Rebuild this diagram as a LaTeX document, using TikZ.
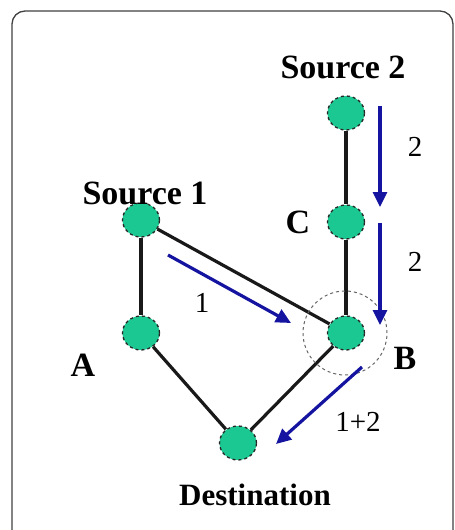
\documentclass[tikz,border=0pt]{standalone}
\usepackage{fontspec}
\setmainfont{Liberation Serif}
\usetikzlibrary{arrows.meta,shapes.geometric}
\definecolor{nodegreen}{RGB}{28,200,145}
\definecolor{flowblue}{RGB}{20,20,160}
\begin{document}
\begin{tikzpicture}[x=1pt,y=-1pt,
  netnode/.style={ellipse,draw=black!85,dashed,line width=1.3pt,fill=nodegreen,minimum width=37pt,minimum height=34pt,inner sep=0pt},
  link/.style={line width=3.2pt,black!90},
  flow/.style={line width=3.2pt,flowblue,-{Triangle[length=15pt,width=14pt]}},
  bigbold/.style={font=\bfseries\fontsize{34}{36}\selectfont},
  destlabel/.style={font=\bfseries\fontsize{31}{34}\selectfont},
  numlabel/.style={font=\fontsize{29}{30}\selectfont}]
\useasboundingbox (0,0) rectangle (455,530);
\draw[black!75,line width=1.3pt,rounded corners=13pt] (12,11) rectangle (453,545);
% nodes
\node[netnode] (s2) at (346,113) {};
\node[netnode] (c) at (346,222) {};
\node[netnode] (s1) at (141,220) {};
\node[netnode] (a) at (141,333) {};
\node[netnode] (b) at (346,333) {};
\node[netnode] (d) at (238,443) {};
% links
\draw[link] (s1) -- (a);
\draw[link] (s1) -- (b);
\draw[link] (s2) -- (c);
\draw[link] (c) -- (b);
\draw[link] (a) -- (d);
\draw[link] (b) -- (d);
% dashed circle around B
\node[circle,draw=black!60,dashed,line width=1pt,minimum size=84pt] (bring) at (345,333) {};
% labels
\node[bigbold] (ls2) at (343,67) {Source 2};
\node[bigbold] (ls1) at (145,193) {Source 1};
\node[bigbold] (lc) at (298,222) {C};
\node[bigbold] (la) at (83,365) {A};
\node[bigbold] (lb) at (405,358) {B};
\node[destlabel] (ld) at (255,495) {Destination};
% flows
\coordinate (f1s) at (380,106);
\coordinate (f1e) at (380,207);
\coordinate (f2s) at (380,223);
\coordinate (f2e) at (380,325);
\coordinate (f3s) at (168,255);
\coordinate (f3e) at (291,323);
\coordinate (f4s) at (362,367);
\coordinate (f4e) at (276,444);
\draw[flow] (f1s) -- (f1e);
\draw[flow] (f2s) -- (f2e);
\draw[flow] (f3s) -- (f3e);
\draw[flow] (f4s) -- (f4e);
\node[numlabel] (n1) at (415,147) {2};
\node[numlabel] (n2) at (415,262) {2};
\node[numlabel] (n3) at (202,303) {1};
\node[numlabel] (n4) at (358,422) {1+2};
\end{tikzpicture}
\end{document}
